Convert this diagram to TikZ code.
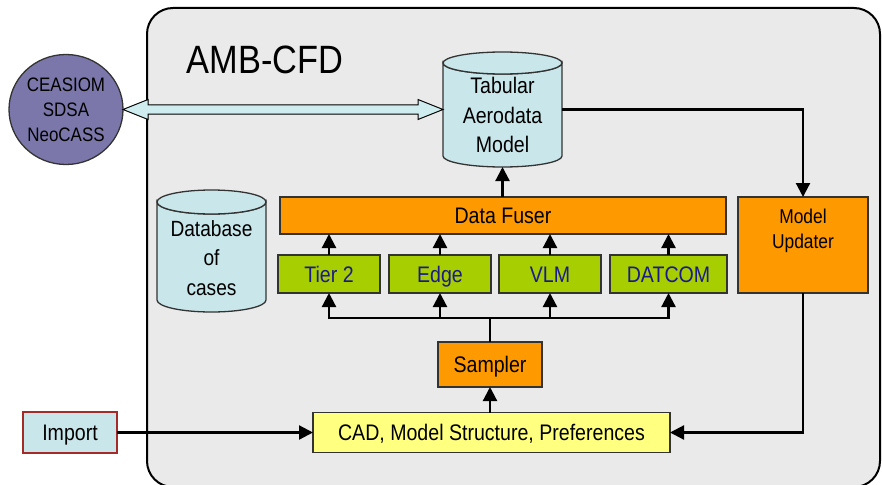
\documentclass[tikz,border=0pt]{standalone}
\usepackage{fontspec}
\setmainfont[FakeStretch=0.87]{Liberation Sans}
\usetikzlibrary{arrows.meta,calc,shapes.geometric}
\definecolor{bg}{HTML}{EAEAEA}
\definecolor{orng}{HTML}{FF9900}
\definecolor{grn}{HTML}{A6CE00}
\definecolor{navy}{HTML}{1A1A8C}
\definecolor{ltblue}{HTML}{C9E6EA}
\definecolor{fatblue}{HTML}{CFEDEF}
\definecolor{yel}{HTML}{FFFF80}
\definecolor{purp}{HTML}{7B77AA}
\definecolor{boxline}{HTML}{333333}
\definecolor{importred}{HTML}{A52A2A}
\tikzset{
  box/.style={draw=boxline, line width=1.3pt, inner sep=0pt, outer sep=0pt,
    font=\fontsize{22.5}{26}\selectfont, text height=16pt, text depth=0pt},
  orangebox/.style={box, fill=orng},
  greenbox/.style={box, fill=grn, text=navy, minimum height=38pt},
  cylbody/.style={draw=boxline, line width=1.3pt, fill=ltblue},
  arr/.style={line width=2.2pt, -{Triangle[width=14pt,length=14pt]}},
  link/.style={line width=2.2pt},
  fat/.style={draw=black, line width=1pt, fill=fatblue, line join=miter},
  multitext/.style={align=center, inner sep=0pt}
}
\begin{document}
\begin{tikzpicture}[x=1pt,y=-1pt]
\useasboundingbox (0,0) rectangle (882,484);
% container
\draw[line width=2pt, fill=bg, rounded corners=26pt] (147,8) rectangle (880,487);
\node[font=\fontsize{39.5}{44}\selectfont, text height=28.2pt, text depth=0pt, inner sep=0pt] (title) at (265,59) {AMB-CFD};

% Tabular cylinder
\filldraw[cylbody] (443,63) -- (443,156) arc[start angle=180,end angle=0,x radius=59.5,y radius=11] -- (562,63) arc[start angle=0,end angle=180,x radius=59.5,y radius=11] -- cycle;
\filldraw[cylbody] (502.5,63) ellipse [x radius=59.5, y radius=11];
\node[minimum width=119pt, minimum height=115pt, inner sep=0pt, outer sep=0pt] (tab) at (502.5,109.5) {};
\node[multitext, font=\fontsize{22.5}{29.5}\selectfont] (tabtxt) at (502.5,115) {Tabular\\Aerodata\\Model};

% Database cylinder
\filldraw[cylbody] (157,202) -- (157,300) arc[start angle=180,end angle=0,x radius=54.5,y radius=12] -- (266,202) arc[start angle=0,end angle=180,x radius=54.5,y radius=12] -- cycle;
\filldraw[cylbody] (211.5,202) ellipse [x radius=54.5, y radius=12];
\node[multitext, font=\fontsize{22}{29.2}\selectfont] (db) at (211.5,258) {Database\\of\\cases};

% CEASIOM ellipse
\node[ellipse, draw=boxline, line width=1.3pt, fill=purp, minimum width=114pt, minimum height=110pt,
  inner sep=0pt, outer sep=0pt, align=center, font=\fontsize{19.5}{25}\selectfont] (ceas) at (66,109.5) {CEASIOM\\SDSA\\NeoCASS};

% boxes
\node[orangebox, minimum width=446pt, minimum height=37pt] (fus) at (503,215.5) {Data Fuser};
\node[greenbox, minimum width=102pt] (t2) at (329,274) {Tier 2};
\node[greenbox, minimum width=102pt] (edg) at (440,274) {Edge};
\node[greenbox, minimum width=102pt] (vlm) at (550,274) {VLM};
\node[greenbox, minimum width=117pt] (dat) at (668.5,274) {DATCOM};
\node[orangebox, minimum width=130pt, minimum height=96pt] (upd) at (803,245) {};
\node[multitext, font=\fontsize{20}{25}\selectfont] (updtxt) at (803,230.7) {Model\\Updater};
\node[orangebox, minimum width=104pt, minimum height=45pt] (sam) at (490,364.5) {Sampler};
\node[box, fill=yel, minimum width=357pt, minimum height=40pt] (cad) at (491.5,432.5) {CAD, Model Structure, Preferences};
\node[box, fill=ltblue, draw=importred, minimum width=94pt, minimum height=41pt] (imp) at (70,432.5) {Import};

% fat double arrow
\draw[fat] (ceas.east) -- ++(25,-10) -- ++(0,5.5) -- ($(tab.west)+(-25,-4.5)$) -- ++(0,-5.5) -- (tab.west)
  -- ++(-25,10) -- ++(0,-5.5) -- ($(ceas.east)+(25,4.5)$) -- ++(0,5.5) -- cycle;

% connectors
\draw[arr] (tab.east) -| (upd.north);
\draw[arr] (upd.south) |- (cad.east);
\draw[arr] (imp.east) -- (cad.west);
\draw[arr] (sam.south |- cad.north) -- (sam.south);
\draw[link] (sam.north) -- ++(0,-24) coordinate (bus);
\foreach \n in {t2,edg,vlm,dat} {
  \draw[arr] (bus) -| (\n.south);
  \draw[arr] (\n.north) -- (\n.north |- fus.south);
}
\draw[arr] (fus.north -| tab.south) -- (tab.south);
\end{tikzpicture}
\end{document}
